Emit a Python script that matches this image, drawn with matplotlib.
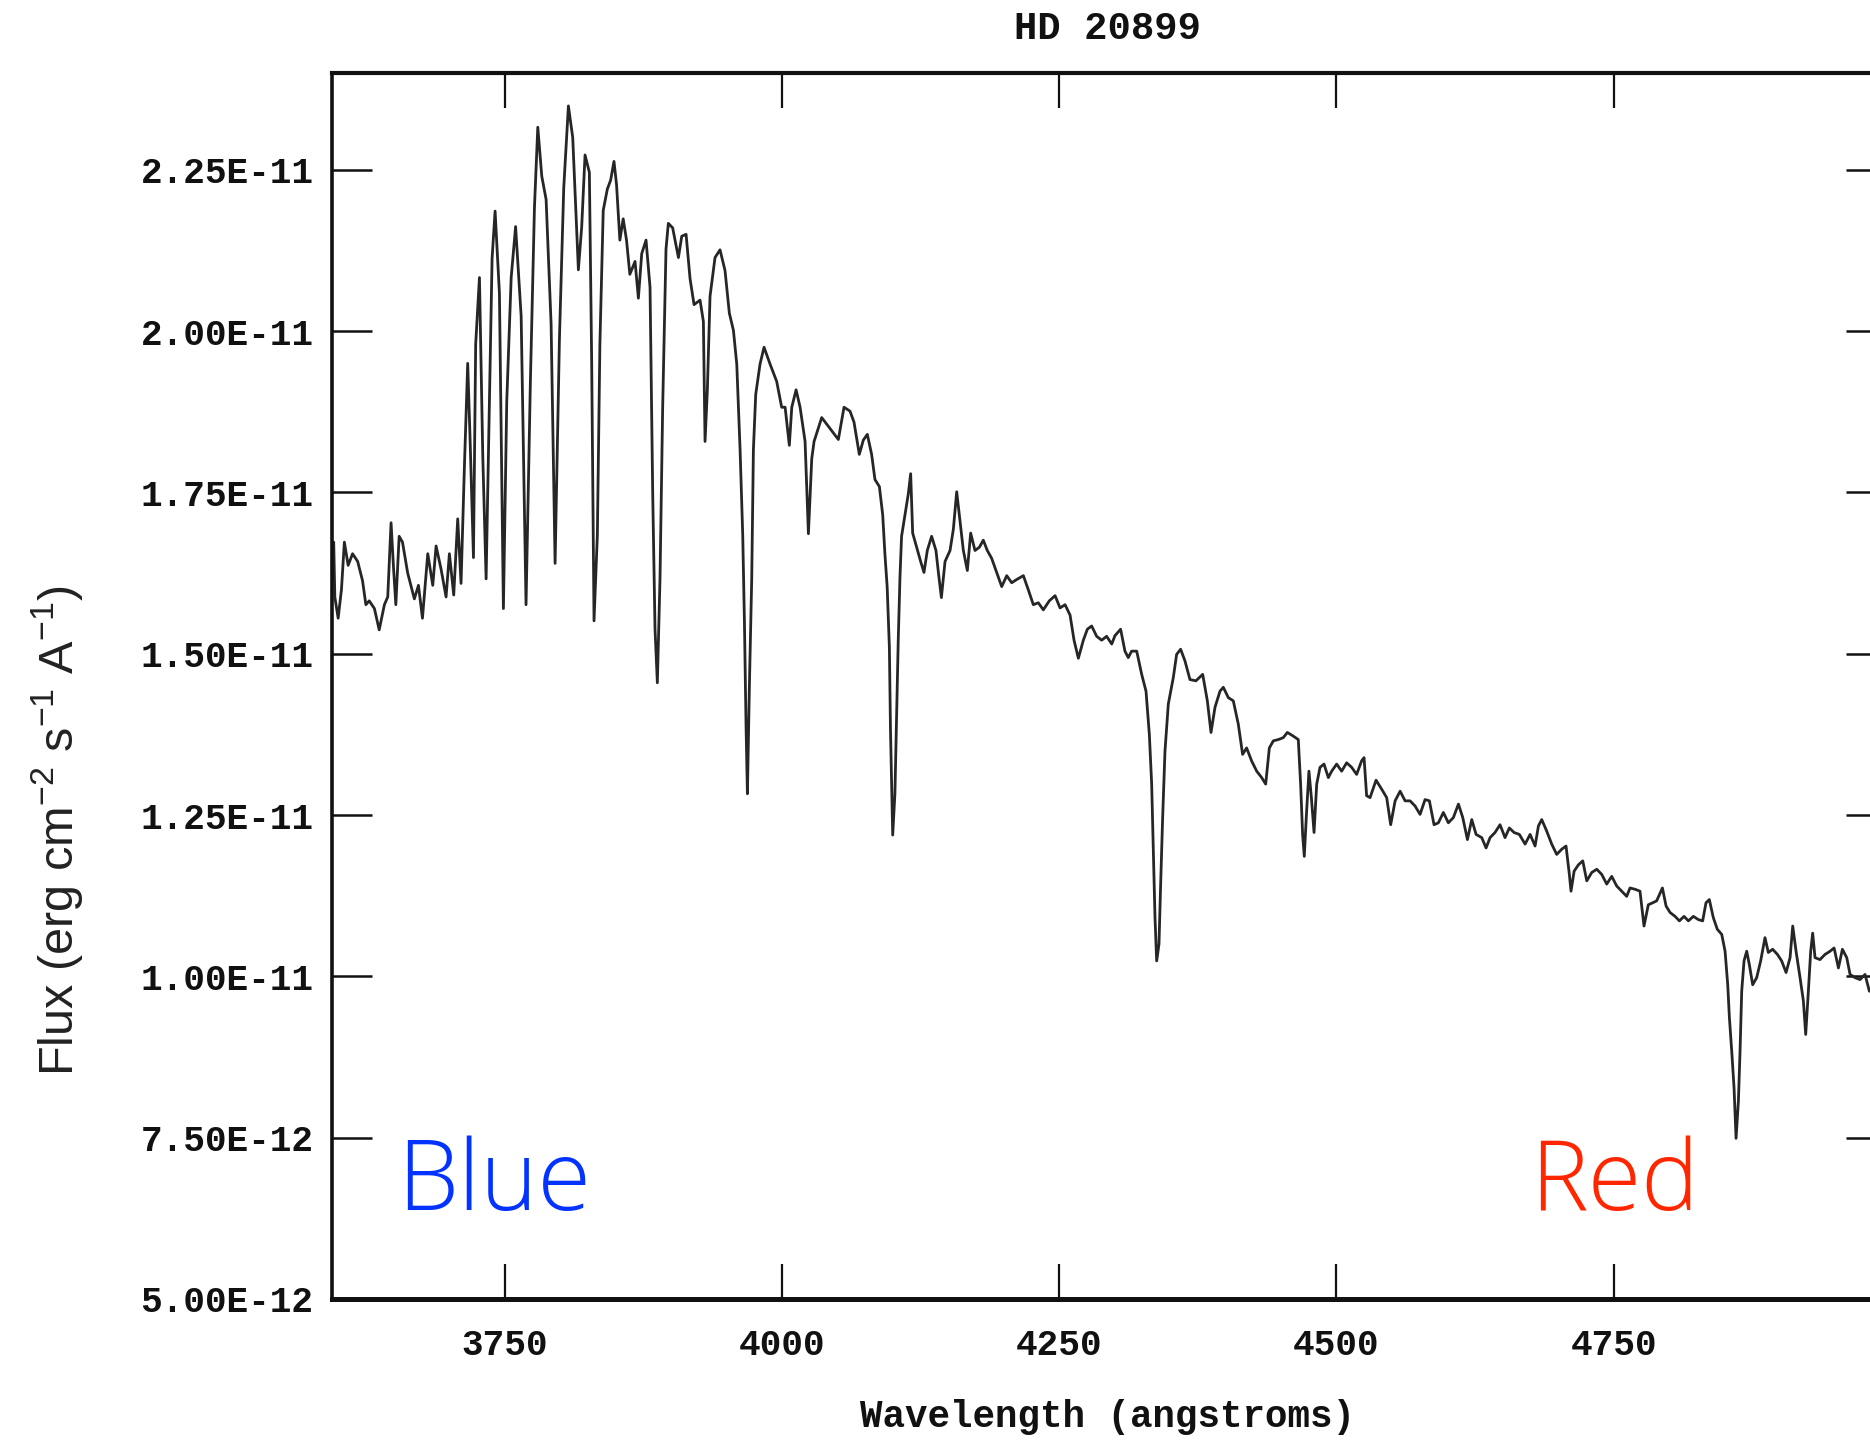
import matplotlib
matplotlib.use("Agg")
import matplotlib.pyplot as plt
from matplotlib.ticker import FixedLocator, FuncFormatter

# ---------------- data ----------------
title = "HD 20899"
x_label = "Wavelength (angstroms)"
y_label = "Flux (erg cm$^{-2}$ s$^{-1}$ A$^{-1}$)"
x_ticks = [3750, 4000, 4250, 4500, 4750]
y_ticks = [5.0e-12, 7.5e-12, 1.0e-11, 1.25e-11, 1.5e-11, 1.75e-11, 2.0e-11, 2.25e-11]

# wavelength (angstrom)
wavelength = [
    3594.5, 3596, 3597, 3600, 3603, 3605.6, 3609, 3613, 3617.6, 3622, 3625, 3628, 3632.7, 3637,
    3641.7, 3644.7, 3647.7, 3650, 3652, 3655, 3658, 3662.7, 3668.7, 3672.4, 3676, 3680.8,
    3685.3, 3688.3, 3692.8, 3697.3, 3700.3, 3704.2, 3707.8, 3710.8, 3713.8, 3716.8, 3719,
    3722, 3724, 3727.4, 3730.4, 3733.4, 3736.4, 3738.8, 3741.5, 3745.4, 3749, 3752, 3756,
    3760, 3765, 3769.4, 3773.3, 3777, 3780, 3783.6, 3787.5, 3792, 3795.6, 3799.5, 3803.4,
    3807.6, 3811.5, 3816.6, 3819.6, 3822.6, 3826.5,
    3828.6, 3830.7, 3833.7, 3836, 3839, 3842.7, 3845.7, 3848.7, 3851, 3854, 3857, 3860, 3863,
    3867.7, 3870.7, 3873.7, 3877.6, 3881.2, 3883.6, 3885.7, 3887.8, 3890.2, 3892.6, 3895.6,
    3897.7, 3901.6, 3906.8, 3909.8, 3913.7, 3917.3, 3920.9, 3926.3, 3929.3, 3930.8, 3932.9,
    3935.3, 3939.8, 3944.3, 3948.8, 3952.7, 3956.4, 3959.4, 3962.4, 3964.8, 3966.3, 3967.8,
    3969, 3970.8, 3972.9, 3974.4, 3976.5, 3980.4, 3984, 3989.4, 3995.4, 3999.9, 4003, 4006.8,
    4009, 4012.9, 4016.5, 4021, 4024, 4027, 4029.1, 4036, 4043.5, 4051, 4056.1,
    4061.5, 4065.1, 4069.9, 4073.5, 4077.1, 4081, 4084, 4088, 4091, 4093, 4095, 4097, 4098,
    4100, 4102, 4103.6, 4105, 4106.6, 4108, 4111, 4114.1, 4116.2, 4118, 4121.6, 4125.2,
    4128.2, 4131.2, 4135.1, 4139, 4141.2, 4143.9, 4147.2, 4151.7, 4154.7, 4157.7, 4160.1,
    4163.7, 4167.3, 4170.3, 4174.2, 4178.1, 4181.7, 4185.3, 4189.2, 4193.7, 4198.3, 4202.8,
    4207.3, 4211.8, 4217.8, 4222.3, 4226.8, 4231.3, 4235.8, 4241.2, 4246.4, 4250.9, 4255.4,
    4259.9, 4263.5, 4267.4, 4271.9, 4275.5, 4279.4, 4283.9, 4288.4, 4292.9, 4297.5,
    4300.4, 4305.5, 4309.4, 4312.4, 4315.4, 4320, 4324.5, 4328.4, 4331.4, 4333.5, 4335,
    4336.5, 4338, 4340.1, 4341.6, 4343.4, 4345.5, 4348.5, 4353, 4356, 4359.6, 4363.5, 4368,
    4373.4, 4379.5, 4383.7, 4387, 4390.6, 4395.1, 4398.1, 4402.6, 4407.1, 4411.6, 4415.5,
    4419.1, 4423.6, 4428.2, 4432.7, 4436.3, 4439.6, 4443.2, 4447.7, 4452.2, 4455.8, 4460.6,
    4465.7, 4467.8, 4469.6, 4471.1, 4473.2, 4475.3, 4477.5, 4479.9, 4482.3, 4485.3, 4488.9,
    4492.8, 4495.8, 4500.3, 4504.8, 4509.3, 4513.8, 4518.3, 4522.8, 4525, 4527.3,
    4530.4, 4535.8, 4540.9, 4545.4, 4549, 4553, 4557.5, 4562, 4566.5, 4571, 4575.5, 4580,
    4583.9, 4588.1, 4592, 4596.5, 4601, 4605.5, 4610.1, 4614, 4618.2, 4622.1, 4626, 4631.1,
    4635, 4638.6, 4643.1, 4647.6, 4652.1, 4656, 4660.2, 4665, 4670.2, 4674.7, 4679.2, 4682.2,
    4685.2, 4689.7, 4694.2, 4698.7, 4703.2, 4707.1, 4710.1, 4711.6, 4714.4, 4718.3, 4722.2,
    4725.8, 4730.3, 4734.8, 4739.3, 4743.8, 4748.3, 4752.8, 4757.3, 4761.8,
    4764.8, 4769.3, 4773.8, 4777.4, 4781.3, 4785.2, 4788.8, 4794, 4797.3, 4800.9, 4805.4,
    4809.3, 4813.5, 4817.4, 4821.9, 4826.4, 4830.3, 4833.3, 4836.3, 4839.9, 4843.5, 4847.5,
    4850.5, 4852.9, 4854.4, 4856.5, 4858.6, 4860.4, 4862.5, 4864, 4865.5, 4867.6, 4870,
    4872.4, 4875.4, 4879, 4882.6, 4886.5, 4889.5, 4893.4, 4897.7, 4901.5, 4905.5, 4909.1,
    4911.5, 4914.5, 4918.1, 4921.1, 4923.2, 4925.6, 4927.7, 4929.5, 4931.6, 4936.1, 4940.6,
    4945.2, 4948.8, 4952.7, 4956.3, 4960.2, 4963.2, 4967.7, 4972.2, 4976.7, 4980.6, 4995,
]

# flux in units of 1e-12 erg cm^-2 s^-1 A^-1
flux_e12 = [
    16.6, 16.73, 15.88, 15.55, 16.0, 16.73, 16.37, 16.55, 16.43, 16.13, 15.76, 15.82, 15.7, 15.37,
    15.76, 15.88, 17.03, 16.31, 15.76, 16.82, 16.73, 16.25, 15.85, 16.06, 15.55, 16.55,
    16.06, 16.67, 16.31, 15.88, 16.55, 15.91, 17.09, 16.09, 17.88, 19.5, 18.3,
    16.49, 19.8, 20.83, 18.06, 16.16, 18.9, 21.13, 21.86, 20.59, 15.7, 18.9, 20.83,
    21.62, 20.23, 15.76, 19.2, 21.92, 23.16, 22.4, 22.04, 20.11, 16.4, 19.87, 22.22,
    23.49, 23.0, 20.95, 21.62, 22.73, 22.46,
    19.5, 15.51, 16.83, 19.8, 21.87, 22.2, 22.34, 22.63, 22.27, 21.41, 21.74, 21.41, 20.88,
    21.08, 20.51, 21.2, 21.41, 20.68, 17.5, 15.38, 14.55, 16.17, 18.82, 21.27,
    21.67, 21.6, 21.14, 21.47, 21.5, 20.81, 20.41, 20.48, 20.15, 18.29, 19.09,
    20.54, 21.14, 21.26, 20.94, 20.28, 20.01, 19.49, 18.16, 16.83, 15.51, 13.85,
    12.83, 14.51, 16.17, 18.16, 19.02, 19.49, 19.75, 19.49, 19.22, 18.82, 18.82, 18.23,
    18.82, 19.09, 18.82, 18.29, 16.86, 18.02, 18.29, 18.66, 18.49, 18.32, 18.82,
    18.76, 18.59, 18.09, 18.31, 18.4, 18.09, 17.7, 17.59, 17.15, 16.54, 16.04, 15.1, 13.82,
    12.19, 12.83, 14.1, 15.21, 16.21, 16.82, 17.15, 17.48, 17.79, 16.87, 16.65, 16.43,
    16.26, 16.6, 16.82, 16.6, 16.26, 15.87, 16.43, 16.6, 16.93, 17.51, 17.15,
    16.6, 16.29, 16.87, 16.6, 16.65, 16.76, 16.6, 16.48, 16.26, 16.04, 16.21,
    16.1, 16.15, 16.21, 15.99, 15.76, 15.79, 15.68, 15.82, 15.9, 15.71, 15.76,
    15.6, 15.21, 14.93, 15.21, 15.38, 15.43, 15.27, 15.21, 15.27, 15.15,
    15.28, 15.38, 15.04, 14.94, 15.04, 15.04, 14.68, 14.42, 13.75, 12.98, 11.94,
    10.91, 10.24, 10.5, 11.43, 12.46, 13.49, 14.22, 14.63, 14.99, 15.07, 14.89, 14.6,
    14.58, 14.68, 14.27, 13.78, 14.17, 14.42, 14.48, 14.32, 14.27, 13.91, 13.44,
    13.54, 13.34, 13.18, 13.08, 12.98, 13.54, 13.65, 13.67, 13.7, 13.78, 13.73,
    13.67, 12.98, 12.2, 11.86, 12.56, 13.18, 12.77, 12.23, 12.98, 13.24, 13.29,
    13.08, 13.18, 13.29, 13.18, 13.31, 13.24, 13.13, 13.34, 13.39, 12.8,
    12.77, 13.04, 12.9, 12.77, 12.35, 12.72, 12.87, 12.72, 12.72, 12.64, 12.51, 12.74,
    12.72, 12.35, 12.38, 12.54, 12.38, 12.46, 12.67, 12.46, 12.12, 12.43, 12.2, 12.15,
    11.99, 12.15, 12.23, 12.35, 12.15, 12.3, 12.23, 12.2, 12.05, 12.2, 12.02, 12.33,
    12.43, 12.25, 12.05, 11.89, 11.97, 12.02, 11.58, 11.32, 11.63, 11.73, 11.79,
    11.48, 11.61, 11.66, 11.58, 11.43, 11.55, 11.4, 11.32, 11.24,
    11.37, 11.35, 11.32, 10.78, 11.11, 11.14, 11.17, 11.37, 11.09, 10.99, 10.93,
    10.86, 10.93, 10.86, 10.93, 10.88, 10.86, 11.14, 11.19, 10.91, 10.73, 10.65,
    10.39, 9.87, 9.36, 8.84, 8.27, 7.49, 8.06, 8.84, 9.77, 10.24, 10.39,
    10.18, 9.87, 9.98, 10.24, 10.6, 10.37, 10.42, 10.34, 10.24, 10.06, 10.29,
    10.78, 10.39, 9.98, 9.62, 9.1, 9.77, 10.39, 10.67, 10.29, 10.26, 10.34,
    10.39, 10.44, 10.13, 10.42, 10.29, 10.03, 9.98, 9.95, 10.03, 9.77, 9.8,
]

flux = [v * 1e-12 for v in flux_e12]

# ---------------- figure ----------------
W, H, DPI = 1870, 1441, 100
fig = plt.figure(figsize=(W / DPI, H / DPI), dpi=DPI)
fig.patch.set_facecolor("white")

plt.rcParams["mathtext.fontset"] = "custom"
plt.rcParams["mathtext.rm"] = "Liberation Sans"
plt.rcParams["mathtext.it"] = "Liberation Sans"
plt.rcParams["mathtext.bf"] = "Liberation Sans:bold"

left_px, right_px, top_px, bottom_px = 331.5, 1886, 73, 1299
ax = fig.add_axes([left_px / W, 1 - bottom_px / H,
                   (right_px - left_px) / W, (bottom_px - top_px) / H])

ax.plot(wavelength, flux, color="#262626", linewidth=2.0)

ax.set_xlim(3594, 4995.6)
ax.set_ylim(5.0e-12, 2.4e-11)

ax.xaxis.set_major_locator(FixedLocator(x_ticks))
ax.yaxis.set_major_locator(FixedLocator(y_ticks))
ax.xaxis.set_major_formatter(FuncFormatter(lambda v, p: f"{int(round(v))}"))
ax.yaxis.set_major_formatter(FuncFormatter(lambda v, p: f"{v:.2E}"))

mono = dict(family="Liberation Mono", weight="bold")
ax.tick_params(axis="x", which="major", direction="in", top=True, bottom=True,
               length=25, width=1.6, pad=21, labelsize=26, colors="#111111")
ax.tick_params(axis="y", which="major", direction="in", left=True, right=True,
               length=29, width=1.8, pad=13, labelsize=26, colors="#111111")
for lab in ax.get_xticklabels() + ax.get_yticklabels():
    lab.set_fontfamily("Liberation Mono")
    lab.set_fontweight("bold")

for side, lw in (("left", 2.6), ("top", 3.0), ("bottom", 3.6), ("right", 2.6)):
    ax.spines[side].set_linewidth(lw)
    ax.spines[side].set_color("#111111")

# title and axis labels
fig.text(1107 / W, 1 - 29 / H, title, ha="center", va="center",
         fontsize=28, color="#111111", **mono)
fig.text(1107 / W, 1 - 1417 / H, x_label, ha="center", va="center",
         fontsize=27, color="#111111", **mono)
fig.text(57 / W, 1 - 831 / H, y_label, ha="center", va="center", rotation=90,
         fontsize=35, color="#222222", family="Liberation Sans")

# Blue / Red annotations
fig.text(397 / W, 1 - 1210 / H, "Blue", ha="left", va="baseline",
         fontsize=70, color="#0433FF", family="Open Sans", weight="light")
fig.text(1530 / W, 1 - 1210 / H, "Red", ha="left", va="baseline",
         fontsize=70, color="#FF2600", family="Open Sans", weight="light")

fig.savefig("out.png", dpi=DPI)
